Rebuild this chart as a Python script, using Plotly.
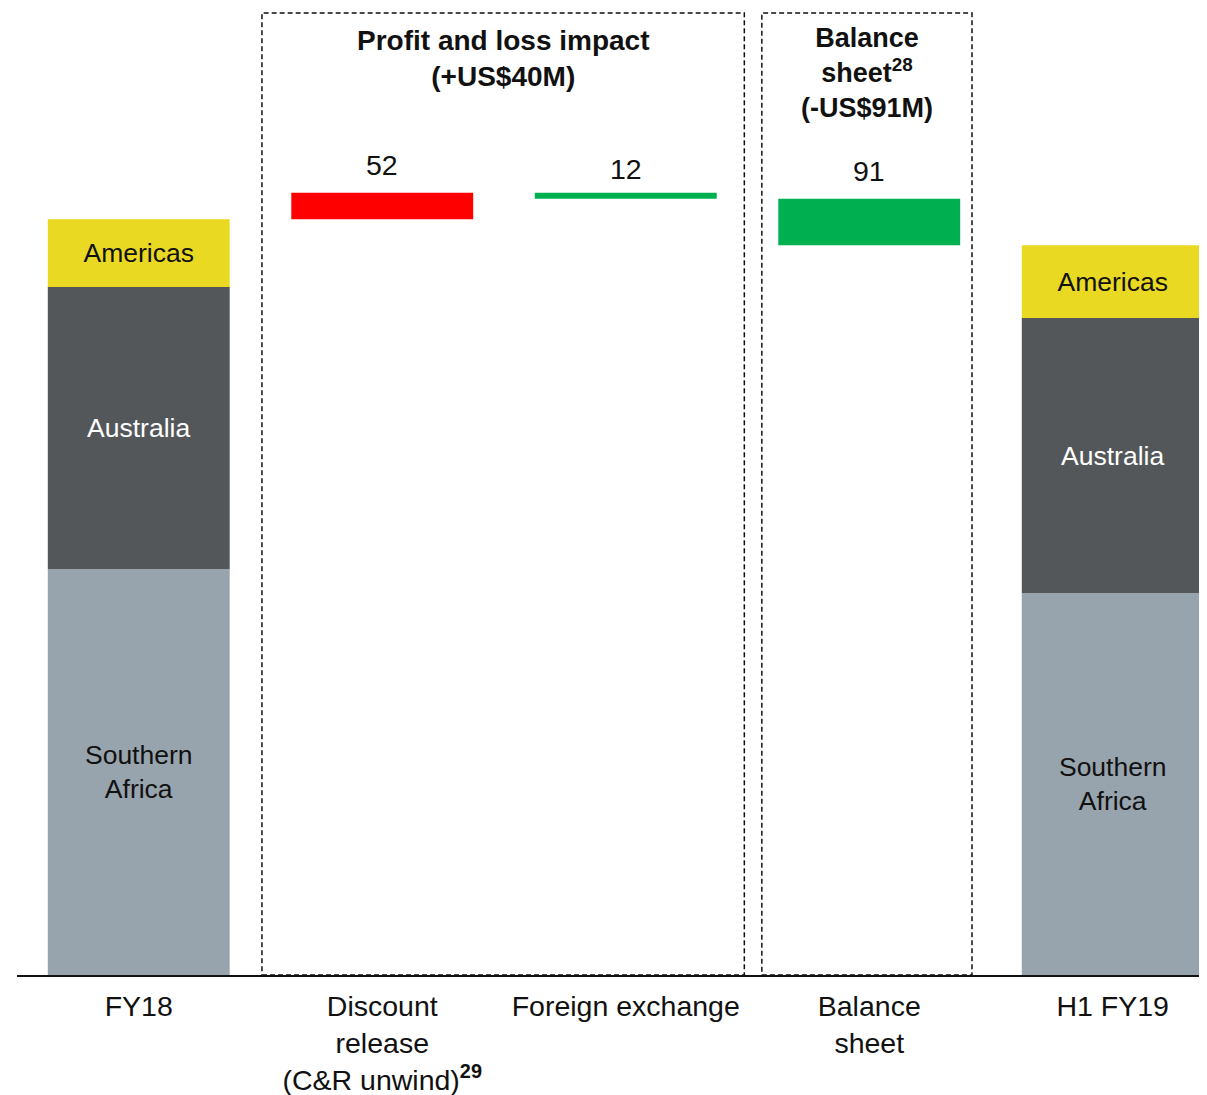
"""Waterfall of rehabilitation provisions, FY18 to H1 FY19."""

import plotly.graph_objects as go

CATEGORIES = [
    "FY18",
    "Discount<br>release<br>(C&R unwind)<sup><b>29</b></sup>",
    "Foreign exchange",
    "Balance<br>sheet",
    "H1 FY19",
]
REGIONS = ["Southern<br>Africa", "Australia", "Americas"]
FY18_VALUES = [796, 553, 133]
H1_FY19_VALUES = [749, 539, 143]
MOVEMENTS = [52, -12, -91]
MOVEMENT_LABELS = ["52", "12", "91"]

REGION_COLOURS = ["#98A4AD", "#54575A", "#EAD922"]
REGION_TEXT = ["#111111", "#FFFFFF", "#111111"]
INCREASE = "#FF0000"
DECREASE = "#00B050"
FONT = "Liberation Sans, Arial, sans-serif"

BAR_WIDTH = 0.747
X_RANGE = [-0.5, 4.42]
Y_RANGE = [0, 1896]


def _stack_bases(values):
    bases, running = [], 0
    for value in values:
        bases.append(running)
        running += value
    return bases


fig = go.Figure()

bases18 = _stack_bases(FY18_VALUES)
bases19 = _stack_bases(H1_FY19_VALUES)
for i, region in enumerate(REGIONS):
    fig.add_trace(
        go.Bar(
            x=[CATEGORIES[0], CATEGORIES[4]],
            y=[FY18_VALUES[i], H1_FY19_VALUES[i]],
            base=[bases18[i], bases19[i]],
            width=BAR_WIDTH,
            marker={"color": REGION_COLOURS[i], "line": {"width": 0}},
            text=[region, region],
            textposition="inside",
            insidetextanchor="middle",
            textangle=0,
            textfont={"size": 26.5, "color": REGION_TEXT[i], "family": FONT},
            hoverinfo="skip",
        )
    )

running = sum(FY18_VALUES)
move_base, move_height, move_colour = [], [], []
for move in MOVEMENTS:
    if move > 0:
        move_base.append(running)
    else:
        move_base.append(running + move)
    running += move
    move_height.append(abs(move))
    move_colour.append(INCREASE if move > 0 else DECREASE)

fig.add_trace(
    go.Bar(
        x=CATEGORIES[1:4],
        y=move_height,
        base=move_base,
        width=BAR_WIDTH,
        marker={"color": move_colour, "line": {"width": 0}},
        hoverinfo="skip",
    )
)

# value labels sit a little above each movement bar
for cat, base, height, label, shift in zip(
    CATEGORIES[1:4], move_base, move_height, MOVEMENT_LABELS, [10, 6, 10]
):
    fig.add_annotation(
        x=cat, y=base + height, yanchor="bottom", yshift=shift,
        text=label, showarrow=False,
        font={"size": 28.5, "color": "#111111", "family": FONT},
    )

# dashed grouping boxes
box_style = {"color": "#111111", "width": 1.5, "dash": "5px,3px"}
fig.add_shape(type="rect", xref="x", yref="paper", x0=0.506, x1=2.487,
              y0=0, y1=0.9948, line=box_style)
fig.add_shape(type="rect", xref="x", yref="paper", x0=2.559, x1=3.422,
              y0=0, y1=0.9948, line=box_style)

fig.add_annotation(
    x=1.496, xref="x", y=0.984, yref="paper", yanchor="top",
    text="<b>Profit and loss impact<br>(+US$40M)</b>",
    showarrow=False, font={"size": 28, "color": "#111111", "family": FONT},
)
fig.add_annotation(
    x=2.99, xref="x", y=0.987, yref="paper", yanchor="top",
    text="<b>Balance<br>sheet<sup>28</sup><br>(-US$91M)</b>",
    showarrow=False, font={"size": 27, "color": "#111111", "family": FONT},
)

fig.update_layout(
    width=1207,
    height=1095,
    barmode="overlay",
    showlegend=False,
    paper_bgcolor="#FFFFFF",
    plot_bgcolor="#FFFFFF",
    margin={"l": 9, "r": 0, "t": 0, "b": 128},
    font={"family": FONT, "color": "#111111"},
)
fig.update_xaxes(
    range=X_RANGE,
    categoryorder="array",
    categoryarray=CATEGORIES,
    showline=True,
    linecolor="#111111",
    linewidth=1.5,
    showgrid=False,
    ticks="",
    ticklabelstandoff=5,
    tickfont={"size": 28.5, "color": "#111111"},
)
fig.update_yaxes(range=Y_RANGE, visible=False, showgrid=False, zeroline=False)

fig.write_html("out.html")
